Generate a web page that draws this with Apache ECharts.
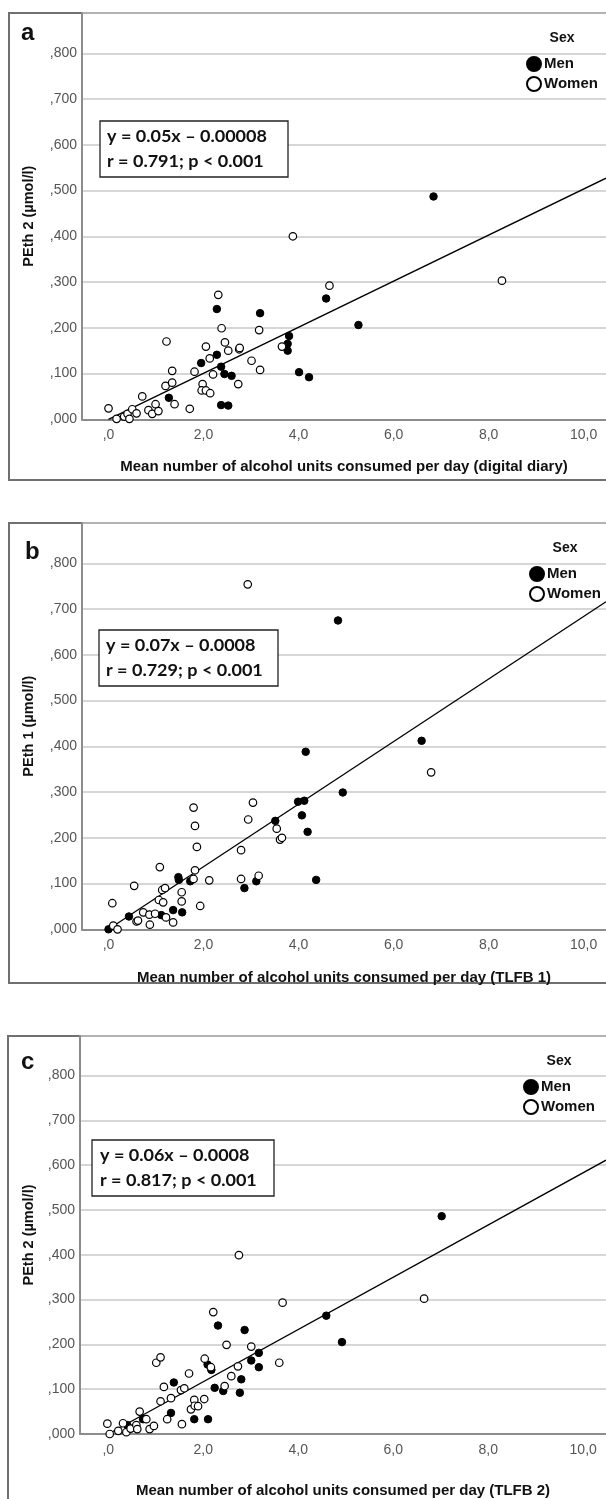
<!DOCTYPE html>
<html>
<head>
<meta charset="utf-8">
<script src="https://cdn.jsdelivr.net/npm/echarts@6.0.0/dist/echarts.min.js"></script>
<style>
  html, body { margin: 0; padding: 0; background: #fff; }
  #chart { width: 606px; height: 1499px; }
</style>
</head>
<body>
<div id="chart"></div>
<script>
// values: [units per day, PEth µmol/l]
const menA = [[1.27,0.047],[1.95,0.123],[2.28,0.241],[2.28,0.141],[2.37,0.115],[2.44,0.099],[2.37,0.031],[2.52,0.030],[2.59,0.095],[3.19,0.232],[3.80,0.182],[3.77,0.165],[3.77,0.150],[4.01,0.103],[4.22,0.092],[4.58,0.264],[5.26,0.206],[6.84,0.487]];
const womenA = [[0.00,0.024],[0.17,0.001],[0.33,0.006],[0.40,0.012],[0.50,0.022],[0.44,0.001],[0.59,0.013],[0.71,0.050],[0.84,0.020],[0.92,0.012],[0.99,0.033],[1.05,0.018],[1.22,0.170],[1.20,0.073],[1.34,0.106],[1.34,0.080],[1.39,0.033],[1.71,0.023],[1.81,0.104],[1.98,0.077],[1.96,0.063],[2.05,0.063],[2.14,0.057],[2.05,0.159],[2.13,0.133],[2.20,0.098],[2.31,0.272],[2.38,0.199],[2.45,0.168],[2.52,0.150],[2.75,0.153],[2.76,0.156],[2.73,0.077],[3.01,0.128],[3.17,0.195],[3.19,0.108],[3.65,0.159],[3.88,0.400],[4.65,0.292],[8.28,0.303]];
const fitA = [[0, 0], [10.47, 0.527]];

const menB = [[0.00,0.000],[0.43,0.028],[1.11,0.031],[1.36,0.042],[1.47,0.114],[1.48,0.108],[1.55,0.037],[1.72,0.105],[2.86,0.090],[3.11,0.105],[3.51,0.237],[3.99,0.279],[4.12,0.281],[4.07,0.249],[4.19,0.213],[4.37,0.108],[4.93,0.299],[4.15,0.388],[6.59,0.412],[4.83,0.675]];
const womenB = [[0.10,0.008],[0.19,0.000],[0.08,0.057],[0.54,0.095],[0.59,0.017],[0.62,0.019],[0.73,0.037],[0.87,0.010],[0.86,0.032],[0.98,0.034],[1.08,0.136],[1.06,0.064],[1.13,0.086],[1.19,0.090],[1.15,0.059],[1.21,0.026],[1.36,0.015],[1.54,0.081],[1.54,0.061],[1.79,0.110],[1.82,0.129],[1.79,0.266],[1.82,0.226],[1.86,0.180],[1.93,0.051],[2.12,0.107],[2.79,0.173],[2.79,0.110],[2.94,0.240],[3.04,0.277],[3.16,0.117],[3.54,0.220],[3.61,0.196],[3.65,0.200],[2.93,0.754],[6.79,0.343]];
const fitB = [[0, 0], [10.47, 0.716]];

const menC = [[0.40,0.020],[0.73,0.033],[1.32,0.047],[1.38,0.115],[1.81,0.033],[2.10,0.033],[2.09,0.155],[2.17,0.143],[2.31,0.242],[2.24,0.103],[2.42,0.096],[2.80,0.122],[2.77,0.092],[2.87,0.232],[3.01,0.164],[3.17,0.181],[3.17,0.149],[4.59,0.264],[4.92,0.205],[7.02,0.486]];
const womenC = [[-0.02,0.023],[0.03,0.000],[0.21,0.007],[0.31,0.024],[0.38,0.004],[0.47,0.012],[0.59,0.020],[0.61,0.011],[0.66,0.050],[0.80,0.033],[0.87,0.011],[0.96,0.018],[1.01,0.159],[1.10,0.171],[1.10,0.073],[1.17,0.105],[1.24,0.033],[1.32,0.080],[1.55,0.022],[1.53,0.098],[1.60,0.102],[1.70,0.135],[1.74,0.055],[1.81,0.076],[1.82,0.063],[1.89,0.062],[2.02,0.078],[2.03,0.168],[2.16,0.149],[2.21,0.272],[2.45,0.107],[2.49,0.199],[2.59,0.129],[2.73,0.151],[3.01,0.195],[3.60,0.159],[3.67,0.293],[2.75,0.399],[6.65,0.302]];
const fitC = [[0, 0], [10.48, 0.611]];

const xTicks = [0, 2, 4, 6, 8, 10];
const panelLetters = ['a', 'b', 'c'];
const yNames = ['PEth 2 (µmol/l)', 'PEth 1 (µmol/l)', 'PEth 2 (µmol/l)'];
const xNames = [
  'Mean number of alcohol units consumed per day (digital diary)',
  'Mean number of alcohol units consumed per day (TLFB 1)',
  'Mean number of alcohol units consumed per day (TLFB 2)'
];
const statLines = [
  ['y = 0.05x \u2013 0.00008', 'r = 0.791; p < 0.001'],
  ['y = 0.07x \u2013 0.0008', 'r = 0.729; p < 0.001'],
  ['y = 0.06x \u2013 0.0008', 'r = 0.817; p < 0.001']
];

const chart = echarts.init(document.getElementById('chart'));

const FONT = '"Liberation Sans", Arial, sans-serif';

// layout per panel (pixel boxes of the original figure)
const panels = [
  { top: 13, zero: 419.3, left: 82, xMin: -0.558, xMax: 10.47, nameGapX: 40, nameGapY: 46,
    frame: [9, 13, 467], box: [100, 121, 188], text: 107, letter: [21, 43], sex: [562, 38], legend: [526, 56] },
  { top: 523, zero: 929.3, left: 82, xMin: -0.558, xMax: 10.47, nameGapX: 41, nameGapY: 46,
    frame: [9, 523, 460], box: [99, 630, 179], text: 106, letter: [25, 562], sex: [565, 548], legend: [529, 566] },
  { top: 1036, zero: 1441.7, left: 80, xMin: -0.596, xMax: 10.48, nameGapX: 49, nameGapY: 44,
    frame: [8, 1036, 600], box: [92, 1140, 182], text: 100, letter: [21, 1072], sex: [559, 1061], legend: [523, 1079] }
];

const men = [menA, menB, menC];
const women = [womenA, womenB, womenC];
const fits = [fitA, fitB, fitC];

const grid = [], xAxis = [], yAxis = [], series = [], legend = [], graphic = [];

panels.forEach((p, i) => {
  grid.push({ left: p.left, right: 0, top: p.top, bottom: 1499 - p.zero });

  xAxis.push({
    type: 'value', gridIndex: i, min: p.xMin, max: p.xMax,
    name: xNames[i], nameLocation: 'middle', nameGap: p.nameGapX,
    nameTextStyle: { fontFamily: FONT, fontWeight: 'bold', fontSize: 15, color: '#111' },
    axisLine: { show: true, onZero: false, lineStyle: { color: '#8c8c8c', width: 2 } },
    axisTick: { show: false },
    splitLine: { show: false },
    axisLabel: {
      customValues: xTicks, margin: 9,
      fontFamily: FONT, fontSize: 14, color: '#555',
      formatter: v => v === 0 ? ',0' : v.toFixed(1).replace('.', ',')
    }
  });

  yAxis.push({
    type: 'value', gridIndex: i, min: 0, max: 0.888, interval: 0.1,
    name: yNames[i], nameLocation: 'middle', nameGap: p.nameGapY, nameRotate: 90,
    nameTextStyle: { fontFamily: FONT, fontWeight: 'bold', fontSize: 14.5, color: '#111' },
    axisLine: { show: true, onZero: false, lineStyle: { color: '#8c8c8c', width: 2 } },
    axisTick: { show: false },
    splitLine: { show: true, lineStyle: { color: '#c8c8c8', width: 1.5 } },
    axisLabel: {
      margin: 5, showMaxLabel: false,
      fontFamily: FONT, fontSize: 14, color: '#555',
      formatter: v => Math.abs(v * 10 - Math.round(v * 10)) > 1e-6 ? '' : ',' + v.toFixed(3).split('.')[1]
    }
  });

  series.push({
    name: 'Men', type: 'scatter', xAxisIndex: i, yAxisIndex: i,
    data: men[i], symbol: 'circle', symbolSize: 7.5,
    itemStyle: { color: '#000', borderColor: '#000', borderWidth: 1, opacity: 1 }
  });
  series.push({
    name: 'Women', type: 'scatter', xAxisIndex: i, yAxisIndex: i,
    data: women[i], symbol: 'circle', symbolSize: 7.5,
    itemStyle: { color: '#fff', borderColor: '#000', borderWidth: 1.2, opacity: 1 }
  });
  series.push({
    name: 'fit', type: 'line', xAxisIndex: i, yAxisIndex: i,
    data: fits[i], symbol: 'none', silent: true, z: 1,
    lineStyle: { color: '#000', width: 1.3 }
  });

  legend.push({
    data: ['Men', 'Women'], orient: 'vertical',
    left: p.legend[0], top: p.legend[1], padding: 0,
    itemWidth: 14, itemHeight: 14, itemGap: 4, icon: 'circle',
    textStyle: { fontFamily: FONT, fontWeight: 'bold', fontSize: 15, color: '#111', padding: [0, 0, 0, -2] }
  });

  // outer frame
  graphic.push({
    type: 'rect', silent: true, z: 0,
    shape: { x: p.frame[0], y: p.frame[1], width: 700, height: p.frame[2] },
    style: { fill: 'none', stroke: '#707070', lineWidth: 2 }
  });
  // panel letter
  graphic.push({
    type: 'text', left: p.letter[0], top: p.letter[1] - 22,
    style: { text: panelLetters[i], font: 'bold 24px ' + FONT, fill: '#111' }
  });
  // legend title
  graphic.push({
    type: 'text', x: p.sex[0], y: p.sex[1],
    style: { text: 'Sex', font: 'bold 14px ' + FONT, fill: '#111', align: 'center', verticalAlign: 'middle' }
  });
  // regression statistics box
  graphic.push({
    type: 'rect', z: 10,
    shape: { x: p.box[0], y: p.box[1], width: p.box[2], height: 56 },
    style: { fill: '#fff', stroke: '#222', lineWidth: 1.3 }
  });
  statLines[i].forEach((t, k) => {
    graphic.push({
      type: 'text', z: 11, x: p.text, y: p.box[1] + 16 + k * 25, scaleX: 1.06,
      style: { text: t, font: 'bold 17px Lato, "Open Sans", sans-serif', fill: '#111', verticalAlign: 'middle' }
    });
  });
});

chart.setOption({
  animation: false,
  backgroundColor: '#fff',
  grid, xAxis, yAxis, series, legend, graphic
});

window.addEventListener('resize', () => chart.resize());
</script>
</body>
</html>
